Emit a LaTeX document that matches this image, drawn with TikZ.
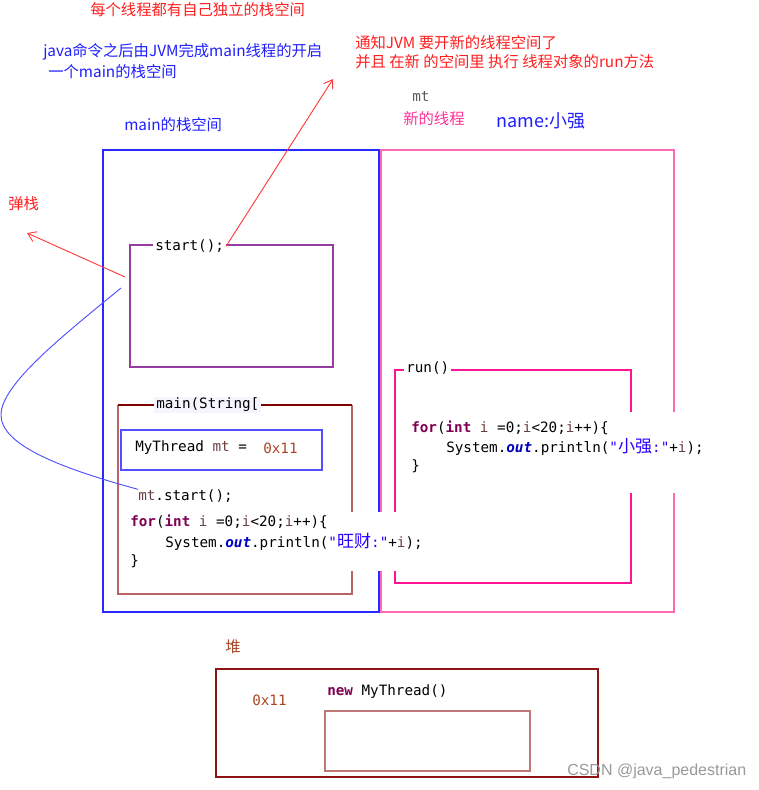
\documentclass[tikz,border=0pt]{standalone}
\usepackage{fontspec}
\usetikzlibrary{arrows.meta}
\newfontfamily\cjk{Noto Sans CJK SC}
\newfontfamily\codef{DejaVu Sans Mono}
\newfontfamily\wmf{Liberation Sans}
\definecolor{redtxt}{RGB}{255,30,30}
\definecolor{bluetxt}{RGB}{30,30,255}
\definecolor{pinktxt}{RGB}{255,50,150}
\definecolor{stackblue}{RGB}{40,40,255}
\definecolor{pinkout}{RGB}{255,105,180}
\definecolor{pinkin}{RGB}{255,20,147}
\definecolor{purplebox}{RGB}{150,60,160}
\definecolor{browntop}{RGB}{128,0,0}
\definecolor{brownside}{RGB}{185,100,100}
\definecolor{mtblue}{RGB}{80,80,255}
\definecolor{heapout}{RGB}{140,20,20}
\definecolor{heapin}{RGB}{190,120,120}
\definecolor{kwc}{RGB}{127,0,85}
\definecolor{lvc}{RGB}{106,62,62}
\definecolor{stc}{RGB}{42,0,255}
\definecolor{fdc}{RGB}{0,0,192}
\definecolor{addr}{RGB}{170,70,40}
\definecolor{arrowred}{RGB}{255,60,60}
\definecolor{curveblue}{RGB}{80,80,255}
\newcommand\jkw[1]{{\color{kwc}\bfseries #1}}
\newcommand\jlv[1]{{\color{lvc}#1}}
\newcommand\jst[1]{{\color{stc}#1}}
\newcommand\jfd[1]{{\color{fdc}\bfseries\itshape #1}}
\newcommand\jcj[1]{{\cjk\fontsize{12.8}{14}\selectfont #1}}
\begin{document}
\begin{tikzpicture}[x=0.75pt,y=-0.75pt,
  cn/.style={inner sep=0pt, anchor=west, font={\cjk\fontsize{11.5}{14}\selectfont}},
  code/.style={inner sep=0pt, anchor=west, font={\codef\fontsize{10.7}{14}\selectfont}},
  edgelabel/.style={code, fill=white, inner xsep=1.5pt, inner ysep=1pt},
  box/.style={line width=0.8pt},
  redarrow/.style={draw=arrowred, line width=0.7pt, -{Straight Barb[length=6pt,width=8pt]}}]
\useasboundingbox (0,0) rectangle (759,790);

% top texts
\node[cn, text=redtxt] (title) at (90,10) {每个线程都有自己独立的栈空间};
\node[cn, text=bluetxt] (jvm1) at (43,52) {java命令之后由JVM完成main线程的开启};
\node[cn, text=bluetxt] (jvm2) at (48,72) {一个main的栈空间};
\node[cn, text=bluetxt] (mainstack) at (124,125) {main的栈空间};
\node[cn, text=redtxt] (notify1) at (355,43) {通知JVM 要开新的线程空间了};
\node[cn, text=redtxt] (notify2) at (355,62) {并且 在新 的空间里 执行 线程对象的run方法};
\node[code, text=black!65] (mtlabel) at (412,96) {mt};
\node[cn, text=pinktxt] (newthread) at (403,119) {新的线程};
\node[cn, text=bluetxt, font={\cjk\fontsize{13.5}{16}\selectfont}] (name) at (496,121) {name:小强};
\node[cn, text=redtxt] (pop) at (8,204) {弹栈};

% stacks
\draw[box, draw=stackblue] (103,150) rectangle (379,612);
\draw[box, draw=pinkout] (381,150) rectangle (674,612);

% start() frame
\draw[box, draw=purplebox] (130,245) rectangle (333,367);
\node[edgelabel] (start) at (153,246) {start();};

% main frame
\draw[box, draw=brownside] (352,405) -- (352,594) -- (118,594) -- (118,405);
\draw[box, draw=browntop] (118,405) -- (352,405);
\node[edgelabel, fill=blue!4] (mainlbl) at (154,405) {main(String[};

\draw[box, draw=mtblue] (121,430) rectangle (322,470);
\node[code] (mtdecl) at (135,448) {MyThread \jlv{mt} =};
\node[code, text=addr] (addr1) at (263,448) {0x11};
\node[code] (mtstart) at (138,496) {\jlv{mt}.start();};

% run frame
\draw[box, draw=pinkin] (395,370) rectangle (631,583);
\node[edgelabel] (run) at (404,368) {run()};

% white backgrounds of code blocks
\fill[white] (125,512) rectangle (440,571);
\fill[white] (402,412) rectangle (712,493);

\node[code] (mfor) at (130,522) {\jkw{for}(\jkw{int} \jlv{i} =0;\jlv{i}<20;\jlv{i}++)\{};
\node[code] (mprint) at (165,542) {System.\jfd{out}.println(\jst{"\jcj{旺财}:"}+\jlv{i});};
\node[code] (mend) at (130,561) {\}};

\node[code] (rfor) at (411,428) {\jkw{for}(\jkw{int} \jlv{i} =0;\jlv{i}<20;\jlv{i}++)\{};
\node[code] (rprint) at (446,447) {System.\jfd{out}.println(\jst{"\jcj{小强}:"}+\jlv{i});};
\node[code] (rend) at (411,466) {\}};

% heap
\node[cn, text=addr] (heaplbl) at (225,647) {堆};
\draw[box, draw=heapout] (216,669) rectangle (598,777);
\node[code, text=addr] (addr2) at (252,700) {0x11};
\node[code] (newobj) at (327,692) {\jkw{new} MyThread()};
\draw[box, draw=heapin, line width=1pt] (325,711) rectangle (530,771);

% connectors
\coordinate (jvmtip) at (333,79);
\coordinate (popstart) at (125,277);
\coordinate (poptip) at (27,233);
\coordinate (curvestart) at (121,288);
\draw[redarrow] (start.east) -- (jvmtip);
\draw[redarrow] (popstart) -- (poptip);
\draw[draw=curveblue, line width=0.7pt] (curvestart) .. controls (60,338) and (1,385) .. (1,415)
   .. controls (1,445) and (60,468) .. (mtstart.north west);

% watermark
\node[inner sep=0pt, anchor=west, text=black!40, font={\wmf\fontsize{12}{14}\selectfont}] (wm) at (567,771) {CSDN @java\_pedestrian};
\end{tikzpicture}
\end{document}
